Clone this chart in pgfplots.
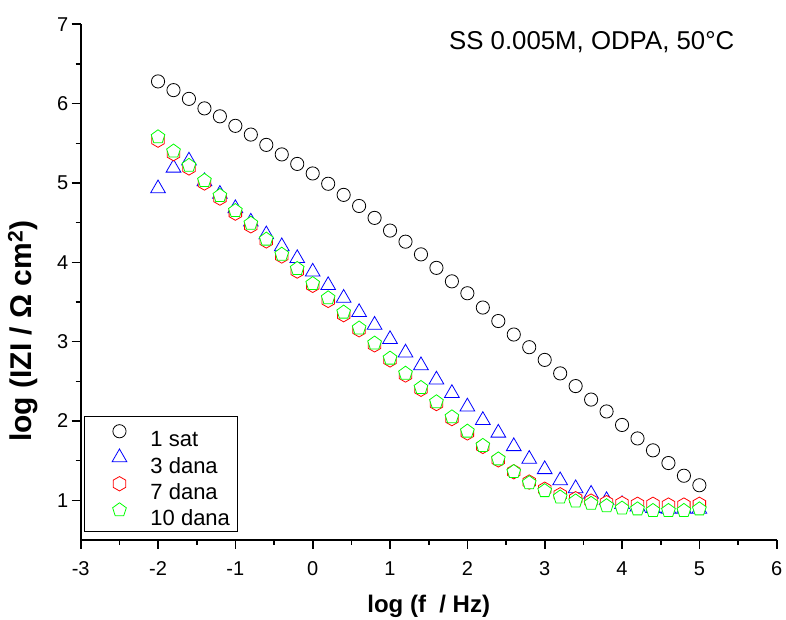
\documentclass[border=0pt]{standalone}
\usepackage{fontspec}
\setmainfont{Liberation Sans}
\usepackage{pgfplots}
\usepackage{pgfplotstable}
\pgfplotsset{compat=1.18}
\usetikzlibrary{plotmarks}

\pgfdeclareplotmark{hexagon*}{%
  \pgfpathmoveto{\pgfpointpolar{90}{\pgfplotmarksize}}%
  \pgfpathlineto{\pgfpointpolar{150}{\pgfplotmarksize}}%
  \pgfpathlineto{\pgfpointpolar{210}{\pgfplotmarksize}}%
  \pgfpathlineto{\pgfpointpolar{270}{\pgfplotmarksize}}%
  \pgfpathlineto{\pgfpointpolar{330}{\pgfplotmarksize}}%
  \pgfpathlineto{\pgfpointpolar{30}{\pgfplotmarksize}}%
  \pgfpathclose
  \pgfusepathqfillstroke}

\pgfplotstableread{
x y
-2.0 6.28
-1.8 6.17
-1.6 6.06
-1.4 5.94
-1.2 5.84
-1.0 5.72
-0.8 5.61
-0.6 5.48
-0.4 5.36
-0.2 5.24
0.0 5.12
0.2 4.99
0.4 4.85
0.6 4.71
0.8 4.56
1.0 4.40
1.2 4.26
1.4 4.10
1.6 3.93
1.8 3.76
2.0 3.61
2.2 3.43
2.4 3.26
2.6 3.09
2.8 2.93
3.0 2.77
3.2 2.60
3.4 2.44
3.6 2.27
3.8 2.12
4.0 1.95
4.2 1.78
4.4 1.63
4.6 1.47
4.8 1.31
5.0 1.19
}\sat

\pgfplotstableread{
x y
-2.0 4.93
-1.8 5.19
-1.6 5.28
-1.4 5.02
-1.2 4.86
-1.0 4.68
-0.8 4.51
-0.6 4.35
-0.4 4.20
-0.2 4.05
0.0 3.88
0.2 3.71
0.4 3.55
0.6 3.37
0.8 3.21
1.0 3.03
1.2 2.86
1.4 2.70
1.6 2.52
1.8 2.35
2.0 2.18
2.2 2.01
2.4 1.85
2.6 1.68
2.8 1.52
3.0 1.39
3.2 1.25
3.4 1.15
3.6 1.08
3.8 1.00
4.0 0.95
4.2 0.92
4.4 0.90
4.6 0.89
4.8 0.89
5.0 0.89
}\danaiii

\pgfplotstableread{
x y
-2.0 5.54
-1.8 5.37
-1.6 5.19
-1.4 5.00
-1.2 4.81
-1.0 4.62
-0.8 4.46
-0.6 4.27
-0.4 4.08
-0.2 3.89
0.0 3.71
0.2 3.52
0.4 3.34
0.6 3.15
0.8 2.96
1.0 2.77
1.2 2.58
1.4 2.40
1.6 2.22
1.8 2.03
2.0 1.85
2.2 1.68
2.4 1.51
2.6 1.36
2.8 1.23
3.0 1.14
3.2 1.07
3.4 1.02
3.6 0.99
3.8 0.97
4.0 0.96
4.2 0.95
4.4 0.95
4.6 0.94
4.8 0.94
5.0 0.95
}\danavii

\pgfplotstableread{
x y
-2.0 5.58
-1.8 5.40
-1.6 5.22
-1.4 5.03
-1.2 4.84
-1.0 4.65
-0.8 4.49
-0.6 4.29
-0.4 4.10
-0.2 3.92
0.0 3.73
0.2 3.55
0.4 3.37
0.6 3.17
0.8 2.98
1.0 2.79
1.2 2.60
1.4 2.42
1.6 2.24
1.8 2.05
2.0 1.87
2.2 1.69
2.4 1.52
2.6 1.36
2.8 1.22
3.0 1.12
3.2 1.04
3.4 0.99
3.6 0.96
3.8 0.93
4.0 0.90
4.2 0.89
4.4 0.87
4.6 0.87
4.8 0.87
5.0 0.89
}\danax

\begin{document}
\begin{tikzpicture}
\useasboundingbox (0pt,0pt) rectangle (786pt,620pt);
\begin{axis}[
  at={(80.7pt,80pt)}, anchor=south west,
  scale only axis, width=696pt, height=515.7pt,
  xmin=-3, xmax=6, ymin=0.5, ymax=7,
  axis lines*=left,
  axis line style={line width=1.6pt, black},
  xtick={-3,-2,...,6}, ytick={1,2,...,7},
  minor tick num=1,
  tick align=outside,
  major tick length=9pt, minor tick length=5pt,
  every tick/.style={line width=1.6pt, black},
  tick label style={font=\fontsize{20}{22}\selectfont},
  /pgf/number format/assume math mode=true,
  xticklabel shift=9pt,
  clip=false,
  xlabel={log (f\ \ / Hz)},
  ylabel={log (IZI / Ω cm\textsuperscript{2})},
  every axis x label/.style={at={(rel axis cs:0.5,-0.128)}, anchor=center,
     font=\fontsize{24}{28}\selectfont\bfseries},
  every axis y label/.style={at={(rel axis cs:-0.083,0.405)}, anchor=center, rotate=90,
     font=\fontsize{30}{34}\selectfont\bfseries},
  legend style={at={(rel axis cs:0.0047,0.0155)}, anchor=south west,
     draw=black, line width=1pt, fill=white,
     font=\fontsize{22}{26}\selectfont,
     inner xsep=8pt, inner ysep=6pt, row sep=2.25pt,
     nodes={inner sep=0pt, text height=16pt, text depth=0pt}},
  legend cell align=left,
  legend image code/.code={%
     \path[draw=none, fill=none] (0pt,0pt) -- (58pt,16pt);
     \draw[#1, overlay, mark repeat=2, mark phase=2] plot coordinates {(0pt,7.5pt) (27pt,7.5pt) (54pt,7.5pt)};},
]
\addplot[only marks, mark=*, mark size=6.6pt, mark options={draw=black, fill=white, line width=0.8pt}] table {\sat};
\addlegendentry{1 sat}
\addplot[only marks, mark=triangle*, mark size=8.5pt, mark options={draw=blue, fill=white, line width=0.8pt}] table {\danaiii};
\addlegendentry{3 dana}
\addplot[only marks, mark=hexagon*, mark size=7.2pt, mark options={draw=red, fill=white, line width=0.8pt}] table {\danavii};
\addlegendentry{7 dana}
\addplot[only marks, mark=pentagon*, mark size=7.2pt, mark options={draw=green, fill=white, line width=0.8pt}] table {\danax};
\addlegendentry{10 dana}
\node[anchor=base west, inner sep=0pt, font=\fontsize{25.8}{29}\selectfont] at (rel axis cs:0.529,0.952) {SS 0.005M, ODPA, 50°C};
\end{axis}
\end{tikzpicture}
\end{document}
